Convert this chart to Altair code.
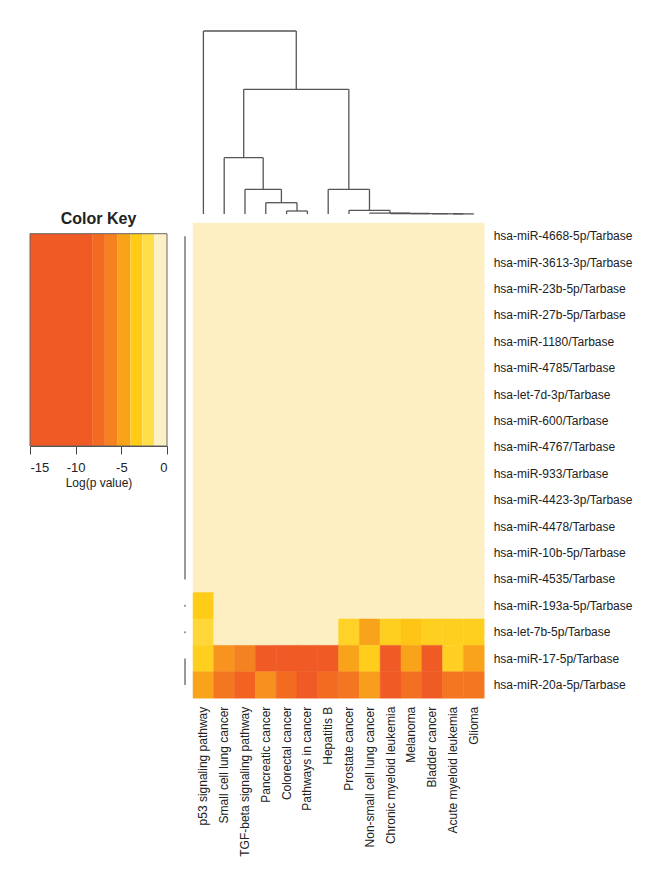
import altair as alt
import pandas as pd

FONT = "Liberation Sans"

# ---------------- data ----------------
pathways = ["p53 signaling pathway", "Small cell lung cancer", "TGF-beta signaling pathway",
            "Pancreatic cancer", "Colorectal cancer", "Pathways in cancer", "Hepatitis B",
            "Prostate cancer", "Non-small cell lung cancer", "Chronic myeloid leukemia",
            "Melanoma", "Bladder cancer", "Acute myeloid leukemia", "Glioma"]

mirnas = ["hsa-miR-4668-5p/Tarbase", "hsa-miR-3613-3p/Tarbase", "hsa-miR-23b-5p/Tarbase",
          "hsa-miR-27b-5p/Tarbase", "hsa-miR-1180/Tarbase", "hsa-miR-4785/Tarbase",
          "hsa-let-7d-3p/Tarbase", "hsa-miR-600/Tarbase", "hsa-miR-4767/Tarbase",
          "hsa-miR-933/Tarbase", "hsa-miR-4423-3p/Tarbase", "hsa-miR-4478/Tarbase",
          "hsa-miR-10b-5p/Tarbase", "hsa-miR-4535/Tarbase", "hsa-miR-193a-5p/Tarbase",
          "hsa-let-7b-5p/Tarbase", "hsa-miR-17-5p/Tarbase", "hsa-miR-20a-5p/Tarbase"]

# log(p value) per pathway for the rows that are not blank (all other rows are 0)
logp_193a = [-3.3, 0, 0, 0, 0, 0, 0, 0, 0, 0, 0, 0, 0, 0]
logp_let7b = [-2.5, 0, 0, 0, 0, 0, 0, -2.9, -4.7, -3.1, -3.6, -3.1, -3.1, -3.1]
logp_mir17 = [-3.1, -5.4, -6.1, -9.5, -11.2, -12.4, -10.8, -4.7, -3.2, -11.5, -4.7, -13.0, -3.0, -4.7]
logp_mir20a = [-4.7, -6.8, -7.8, -5.5, -7.5, -9.2, -7.5, -6.8, -4.9, -8.6, -7.2, -10.5, -6.8, -6.8]
nonblank_rows = {"hsa-miR-193a-5p/Tarbase": logp_193a, "hsa-let-7b-5p/Tarbase": logp_let7b,
                 "hsa-miR-17-5p/Tarbase": logp_mir17, "hsa-miR-20a-5p/Tarbase": logp_mir20a}

# colour key bins
key_edges = [-15, -8.2, -6.8, -5.4, -4.0, -2.7, -1.4, 0]
key_colors = ["#F05A24", "#F36A21", "#F58220", "#F9A31B", "#FFCB15", "#FFDE4A", "#FEF0C5"]
key_ticks = [-15, -10, -5, 0]
cream = "#FEEFC3"

# column dendrogram: (left, right, height); negative = leaf (1-based column), positive = earlier merge
col_merges = [
    (-5, -6, 3.0),
    (-4, 1, 11.3),
    (-3, 2, 24.7),
    (-2, 3, 56.3),
    (-13, -14, 0.1),
    (-12, 5, 0.2),
    (-11, 6, 0.35),
    (-10, 7, 0.5),
    (-9, 8, 0.8),
    (-8, 9, 3.7),
    (-7, 10, 24.7),
    (4, 11, 124.7),
    (-1, 12, 183.0),
]

# row dendrogram: groups of rows joined at height 0 (first, last row index)
row_groups = [(0, 13), (14, 14), (15, 15), (16, 17)]

# ---------------- tables ----------------
hm_rows = []
for m in mirnas:
    vals = nonblank_rows.get(m, [0] * len(pathways))
    for p, v in zip(pathways, vals):
        hm_rows.append({"mirna": m, "pathway": p, "logp": v})
hm_df = pd.DataFrame(hm_rows)

pos = {}
def node(n):
    if n < 0:
        return (-n - 1 + 0.5, 0.0)
    return pos[n]
segs = []
for k, (a, b, h) in enumerate(col_merges, start=1):
    xa, ha = node(a)
    xb, hb = node(b)
    segs.append({"x": xa, "x2": xa, "y": ha, "y2": h})
    segs.append({"x": xb, "x2": xb, "y": hb, "y2": h})
    segs.append({"x": xa, "x2": xb, "y": h, "y2": h})
    pos[k] = ((xa + xb) / 2, h)
seg_df = pd.DataFrame(segs)
max_h = max(m[2] for m in col_merges)

rd_rules = pd.DataFrame([{"h": 0, "y": a + 0.5, "y2": b + 0.5} for a, b in row_groups if b > a])
rd_pts = pd.DataFrame([{"h": 0, "y": a + 0.5} for a, b in row_groups if b == a])

key_df = pd.DataFrame({"lo": key_edges[:-1], "hi": key_edges[1:], "idx": list(range(len(key_colors)))})
box_df = pd.DataFrame({"lo": [key_edges[0]], "hi": [key_edges[-1]]})

# piecewise colour scale built from the key bins
stops = [key_edges[0], key_edges[1]] + [(key_edges[i] + key_edges[i + 1]) / 2 for i in range(1, 6)] + [key_edges[-1]]
stop_colors = [key_colors[0]] + key_colors[:6] + [cream]
cscale = alt.Scale(domain=stops, range=stop_colors, interpolate="rgb", clamp=True)

# ---------------- layout sizes ----------------
W_HM = 291.2
H_HM = 475.2
H_DEN = 183
W_KEY = 137
H_KEY = 223
W_RD = 18

def spacer(w, h):
    return alt.Chart(pd.DataFrame({"v": [0]})).mark_point(opacity=0, size=1).encode(
        x=alt.X("v:Q", axis=None, scale=alt.Scale(domain=[-1, 1])),
        y=alt.Y("v:Q", axis=None, scale=alt.Scale(domain=[-1, 1])),
    ).properties(width=w, height=h)

# ---------------- panels ----------------
col_dendro = alt.Chart(seg_df).mark_rule(color="#555555", strokeWidth=1.3).encode(
    x=alt.X("x:Q", scale=alt.Scale(domain=[0, len(pathways)], nice=False, zero=False), axis=None),
    x2="x2:Q",
    y=alt.Y("y:Q", scale=alt.Scale(domain=[0, max_h], nice=False), axis=None),
    y2="y2:Q",
).properties(width=W_HM, height=H_DEN)

heat = alt.Chart(hm_df).mark_rect(strokeWidth=0.5).encode(
    x=alt.X("pathway:N", sort=pathways, scale=alt.Scale(paddingInner=0, paddingOuter=0),
            axis=alt.Axis(orient="bottom", labelAngle=-90, title=None, ticks=False, domain=False,
                          labelFontSize=12, labelPadding=8, labelColor="#222222", labelLimit=0)),
    y=alt.Y("mirna:N", sort=mirnas, scale=alt.Scale(paddingInner=0, paddingOuter=0),
            axis=alt.Axis(orient="right", title=None, ticks=False, domain=False,
                          labelFontSize=12, labelPadding=9, labelColor="#222222", labelLimit=0)),
    color=alt.Color("logp:Q", scale=cscale, legend=None),
    stroke=alt.Stroke("logp:Q", scale=cscale, legend=None),
).properties(width=W_HM, height=H_HM)

kx = alt.Scale(domain=[key_edges[0], key_edges[-1]], nice=False, zero=False)
key_rects = alt.Chart(key_df).mark_rect().encode(
    x=alt.X("lo:Q", scale=kx,
            axis=alt.Axis(values=key_ticks, title="Log(p value)", tickSize=8, tickColor="#444444",
                          domainColor="#444444", labelFontSize=13, labelPadding=7,
                          labelColor="#222222", titleFontSize=12, titleFontWeight="normal",
                          titleColor="#222222", titlePadding=3, grid=False,
                          labelExpr="'' + datum.value")),
    x2="hi:Q",
    y=alt.value(10.7),
    y2=alt.value(H_KEY),
    color=alt.Color("idx:O", scale=alt.Scale(domain=list(range(len(key_colors))), range=key_colors), legend=None),
)
key_box = alt.Chart(box_df).mark_rect(filled=False, stroke="#666666", strokeWidth=1).encode(
    x=alt.X("lo:Q", scale=kx), x2="hi:Q", y=alt.value(10.7), y2=alt.value(H_KEY)
)
key_title = alt.Chart(pd.DataFrame({"t": ["Color Key"]})).mark_text(
    fontSize=16, fontWeight="bold", color="#222222", baseline="middle", align="center"
).encode(text="t:N", x=alt.value(W_KEY / 2), y=alt.value(-4))
key = alt.layer(key_rects, key_box, key_title).properties(width=W_KEY, height=H_KEY)

ry = alt.Scale(domain=[0, len(mirnas)], reverse=True, nice=False, zero=False)
rx = alt.Scale(domain=[0, 1], reverse=True, nice=False)
rd_lines = alt.Chart(rd_rules).mark_rule(color="#777777", strokeWidth=1.5).encode(
    x=alt.X("h:Q", scale=rx, axis=None), y=alt.Y("y:Q", scale=ry, axis=None), y2="y2:Q"
)
rd_dots = alt.Chart(rd_pts).mark_point(filled=True, size=4, color="#888888", opacity=1).encode(
    x=alt.X("h:Q", scale=rx, axis=None), y=alt.Y("y:Q", scale=ry, axis=None)
)
row_dendro = alt.layer(rd_lines, rd_dots).properties(width=W_RD, height=H_HM)

chart = alt.concat(
    spacer(22, 1), spacer(1, 1), spacer(1, 1), spacer(1, 1), col_dendro,
    spacer(1, 1), key, row_dendro, spacer(8, 1), heat,
    columns=5, spacing={"row": 9, "column": 0}, bounds="flush",
).properties(
    padding={"left": 0, "top": 22, "right": 5, "bottom": 5}
).configure(font=FONT).configure_view(stroke=None).configure_axis(labelFont=FONT, titleFont=FONT)

chart.save("out.html", embed_options={"renderer": "svg", "actions": False})
